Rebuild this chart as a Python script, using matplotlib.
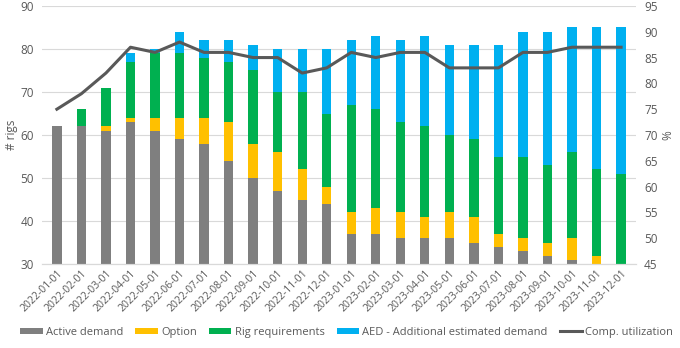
import matplotlib.pyplot as plt
import numpy as np

plt.rcParams['font.family'] = ['Open Sans', 'DejaVu Sans']

months = ['2022-01-01', '2022-02-01', '2022-03-01', '2022-04-01', '2022-05-01', '2022-06-01',
          '2022-07-01', '2022-08-01', '2022-09-01', '2022-10-01', '2022-11-01', '2022-12-01',
          '2023-01-01', '2023-02-01', '2023-03-01', '2023-04-01', '2023-05-01', '2023-06-01',
          '2023-07-01', '2023-08-01', '2023-09-01', '2023-10-01', '2023-11-01', '2023-12-01']

# segment values (rigs)
active = [62, 62, 61, 63, 61, 59, 58, 54, 50, 47, 45, 44,
          37, 37, 36, 36, 36, 35, 34, 33, 32, 31, 0, 0]
option = [0, 0, 1, 1, 3, 5, 6, 9, 8, 9, 7, 4,
          5, 6, 6, 5, 6, 6, 3, 3, 3, 5, 32, 0]
rig_req = [0, 4, 9, 13, 15, 15, 14, 14, 17, 14, 18, 17,
           25, 23, 21, 21, 18, 18, 18, 19, 18, 20, 20, 51]
aed = [0, 0, 0, 2, 1, 5, 4, 5, 6, 10, 10, 15,
       15, 17, 19, 21, 21, 22, 26, 29, 31, 29, 33, 34]
utilization = [75, 78, 82, 87, 86, 88, 86, 86, 85, 85, 82, 83,
               86, 85, 86, 86, 83, 83, 83, 86, 86, 87, 87, 87]

fig = plt.figure(figsize=(6.8, 3.48), dpi=100)
ax = fig.add_axes([0.062, 0.241, 0.873, 0.742])
ax2 = ax.twinx()

x = np.arange(len(months))
w = 0.38
a = np.array(active)
o = np.array(option)
r = np.array(rig_req)
e = np.array(aed)

ax.bar(x, a, w, bottom=0, color='#7f7f7f', label='Active demand', zorder=2)
ax.bar(x, o, w, bottom=a, color='#ffc000', label='Option', zorder=2)
ax.bar(x, r, w, bottom=a + o, color='#00b050', label='Rig requirements', zorder=2)
ax.bar(x, e, w, bottom=a + o + r, color='#00b0f0',
       label='AED - Additional estimated demand', zorder=2)
ln, = ax2.plot(x, utilization, color='#595959', lw=2.2, label='Comp. utilization')

ax.set_ylim(30, 90)
ax.set_yticks(range(30, 91, 10))
ax2.set_ylim(45, 95)
ax2.set_yticks(range(45, 96, 5))
ax.set_xlim(-0.6, len(months) - 0.4)
ax.set_xticks(x)
ax.set_xticklabels(months, rotation=45, ha='right', rotation_mode='anchor')

ax.grid(axis='y', color='#d9d9d9', lw=0.8, zorder=0)
for a_ in (ax, ax2):
    for s in ('top', 'right', 'left'):
        a_.spines[s].set_visible(False)
    a_.spines['bottom'].set_color('#d9d9d9')
    a_.tick_params(length=0, labelsize=8.5, colors='#595959')
ax.tick_params(axis='x', pad=3, labelsize=7.5)
ax.tick_params(axis='y', pad=6)
ax2.tick_params(axis='y', pad=6)

ax.set_ylabel('# rigs', fontsize=8.5, color='#595959', labelpad=2)
ax2.set_ylabel('%', fontsize=8.5, color='#595959', labelpad=3)

h, l = ax.get_legend_handles_labels()
fig.legend(h + [ln], l + ['Comp. utilization'], loc='lower center', ncol=5,
           bbox_to_anchor=(0.51, 0.0), frameon=False, fontsize=8,
           handlelength=2.0, handleheight=0.5, columnspacing=1.1, handletextpad=0.3,
           labelcolor='#595959')

fig.savefig('out.png', dpi=100)
